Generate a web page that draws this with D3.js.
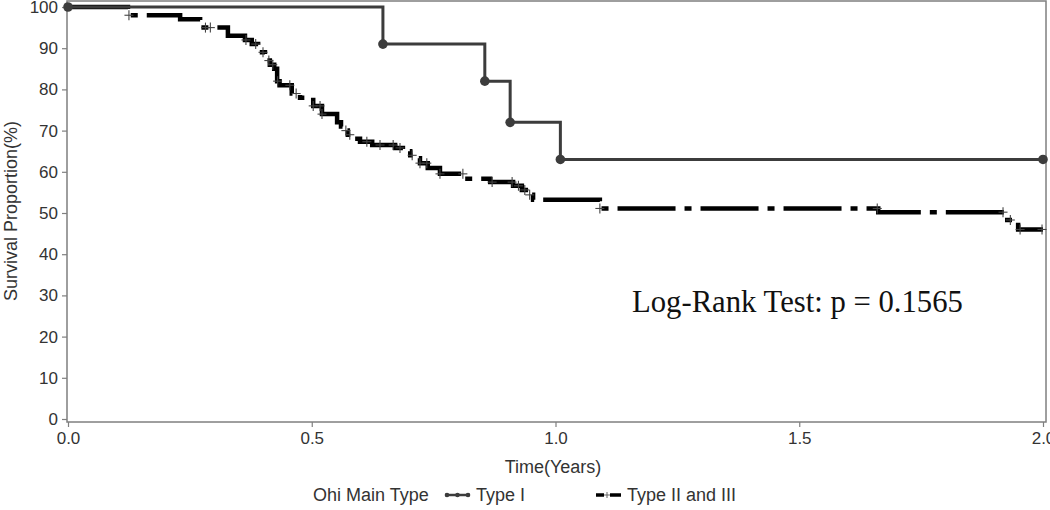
<!DOCTYPE html>
<html>
<head>
<meta charset="utf-8">
<script src="https://cdn.jsdelivr.net/npm/d3@7"></script>
<style>
  html, body { margin: 0; padding: 0; background: #fff; }
  svg { display: block; }
</style>
</head>
<body>
<svg id="chart" width="1050" height="510"></svg>
<script>
// ---- Data ----
const xTicks = [0.0, 0.5, 1.0, 1.5, 2.0];
const yTicks = [0, 10, 20, 30, 40, 50, 60, 70, 80, 90, 100];

// Type I: step times and survival after each step
const type1Times = [0.0, 0.646, 0.855, 0.907, 1.010];
const type1Surv  = [100, 91, 82, 72, 63];
const type1End = 2.0;

// Type II and III: step times and survival after each step
const type23Times = [0.0, 0.123, 0.230, 0.271, 0.328, 0.363, 0.377, 0.390, 0.398, 0.404, 0.414, 0.423, 0.429, 0.434,
  0.459, 0.476, 0.503, 0.521, 0.552, 0.560, 0.568, 0.574, 0.589, 0.599, 0.624, 0.671, 0.687, 0.702, 0.710, 0.722,
  0.738, 0.763, 0.814, 0.866, 0.913, 0.931, 0.946, 0.954, 1.091, 1.662, 1.922, 1.949];
const type23Surv = [100, 98, 97, 95, 93, 92, 91, 90, 89, 87, 86, 85, 82, 81,
  79, 78, 76, 74, 72, 71, 70, 69, 68, 67.3, 66.5, 65.8, 65, 64, 63.3, 62.1,
  60.9, 59.5, 58.3, 57.5, 56.6, 55.6, 54.4, 53.2, 51.1, 50.2, 48.3, 46];
const type23End = 2.0;
// censored times (Type II and III)
const type23Censor = [0.125, 0.282, 0.292, 0.365, 0.385, 0.400, 0.412, 0.420, 0.430, 0.455, 0.468, 0.503, 0.517,
  0.521, 0.570, 0.578, 0.613, 0.640, 0.667, 0.681, 0.706, 0.722, 0.736, 0.763, 0.810, 0.870, 0.911, 0.924, 0.937,
  0.947, 1.091, 1.660, 1.918, 1.933, 1.953, 1.998];

const legendTitle = "Ohi Main Type";
const seriesNames = ["Type I", "Type II and III"];
const annotation = "Log-Rank Test: p = 0.1565";

// ---- Layout ----
const svg = d3.select("#chart");
const x = d3.scaleLinear().domain([0, 2]).range([68, 1043]);
const y = d3.scaleLinear().domain([0, 100]).range([419, 7]);
const frameColor = "#7f7f7f";
const textColor = "#333";
const sans = "'Liberation Sans', Arial, sans-serif";
const fs = "18px";
const tickFs = "17px";

// frame
svg.append("rect").attr("x", 67).attr("y", 1).attr("width", 979).attr("height", 421)
  .attr("fill", "none").attr("stroke", frameColor).attr("stroke-width", 1.5);

// axes
const yAxis = d3.axisLeft(y).tickValues(yTicks).tickSize(5).tickPadding(4).tickFormat(d3.format("d"));
const gy = svg.append("g").attr("transform", "translate(67,0)").call(yAxis);
const xAxis = d3.axisBottom(x).tickValues(xTicks).tickSize(5).tickPadding(5).tickFormat(d3.format(".1f"));
const gx = svg.append("g").attr("transform", "translate(0,422)").call(xAxis);
[gx, gy].forEach(g => {
  g.select(".domain").remove();
  g.selectAll(".tick line").attr("stroke", frameColor).attr("stroke-width", 1.2);
  g.selectAll(".tick text").attr("fill", textColor).style("font-family", sans).style("font-size", tickFs);
});

// axis titles
svg.append("text").attr("transform", "translate(17,211) rotate(-90)")
  .attr("text-anchor", "middle").attr("fill", textColor)
  .style("font-family", sans).style("font-size", fs).text("Survival Proportion(%)");
svg.append("text").attr("x", 553).attr("y", 473).attr("text-anchor", "middle").attr("fill", textColor)
  .style("font-family", sans).style("font-size", fs).text("Time(Years)");

// step path builder
function stepPoints(times, surv, end) {
  const pts = times.map((t, i) => [t, surv[i]]);
  pts.push([end, surv[surv.length - 1]]);
  return pts;
}
const line = d3.line().x(d => x(d[0])).y(d => y(d[1])).curve(d3.curveStepAfter);

// Type II and III curve
const pts23 = stepPoints(type23Times, type23Surv, type23End);
svg.append("path").datum(pts23).attr("d", line)
  .attr("fill", "none").attr("stroke", "#000").attr("stroke-width", 4.5)
  .attr("stroke-dasharray", "58,9,7,9").attr("stroke-dashoffset", -4);

function survAt(times, surv, t) {
  let v = surv[0];
  for (let i = 0; i < times.length; i++) if (times[i] <= t) v = surv[i];
  return v;
}
const cens = svg.append("g").attr("stroke", "#444").attr("stroke-width", 1.1);
type23Censor.forEach(t => {
  const cx = x(t), cy = y(survAt(type23Times, type23Surv, t));
  cens.append("line").attr("x1", cx - 4.5).attr("x2", cx + 4.5).attr("y1", cy).attr("y2", cy);
  cens.append("line").attr("x1", cx).attr("x2", cx).attr("y1", cy - 5).attr("y2", cy + 5);
});

// Type I curve
const pts1 = stepPoints(type1Times, type1Surv, type1End);
svg.append("path").datum(pts1).attr("d", line)
  .attr("fill", "none").attr("stroke", "#3c3c3c").attr("stroke-width", 3);
svg.append("g").selectAll("circle").data(pts1).join("circle")
  .attr("cx", d => x(d[0])).attr("cy", d => y(d[1])).attr("r", 4.8).attr("fill", "#3c3c3c");

// annotation
svg.append("text").attr("x", 632).attr("y", 312).attr("fill", "#111")
  .style("font-family", "'Liberation Serif', 'Times New Roman', serif").style("font-size", "30.7px")
  .text(annotation);

// legend
const ly = 495;
svg.append("text").attr("x", 313).attr("y", ly + 6).attr("fill", textColor)
  .style("font-family", sans).style("font-size", fs).text(legendTitle);
// Type I symbol
svg.append("line").attr("x1", 445).attr("x2", 470).attr("y1", ly).attr("y2", ly)
  .attr("stroke", "#3c3c3c").attr("stroke-width", 2.5);
[447, 457.5, 468].forEach(cx => svg.append("circle").attr("cx", cx).attr("cy", ly).attr("r", 2.3).attr("fill", "#3c3c3c"));
svg.append("text").attr("x", 476).attr("y", ly + 6).attr("fill", textColor)
  .style("font-family", sans).style("font-size", fs).text(seriesNames[0]);
// Type II and III symbol
svg.append("line").attr("x1", 596).attr("x2", 604).attr("y1", ly).attr("y2", ly).attr("stroke", "#000").attr("stroke-width", 3.5);
svg.append("line").attr("x1", 610).attr("x2", 621).attr("y1", ly).attr("y2", ly).attr("stroke", "#000").attr("stroke-width", 3.5);
svg.append("line").attr("x1", 604).attr("x2", 610).attr("y1", ly).attr("y2", ly).attr("stroke", "#666").attr("stroke-width", 1);
svg.append("line").attr("x1", 607).attr("x2", 607).attr("y1", ly - 3).attr("y2", ly + 3).attr("stroke", "#666").attr("stroke-width", 1);
svg.append("text").attr("x", 627).attr("y", ly + 6).attr("fill", textColor)
  .style("font-family", sans).style("font-size", fs).text(seriesNames[1]);
</script>
</body>
</html>
